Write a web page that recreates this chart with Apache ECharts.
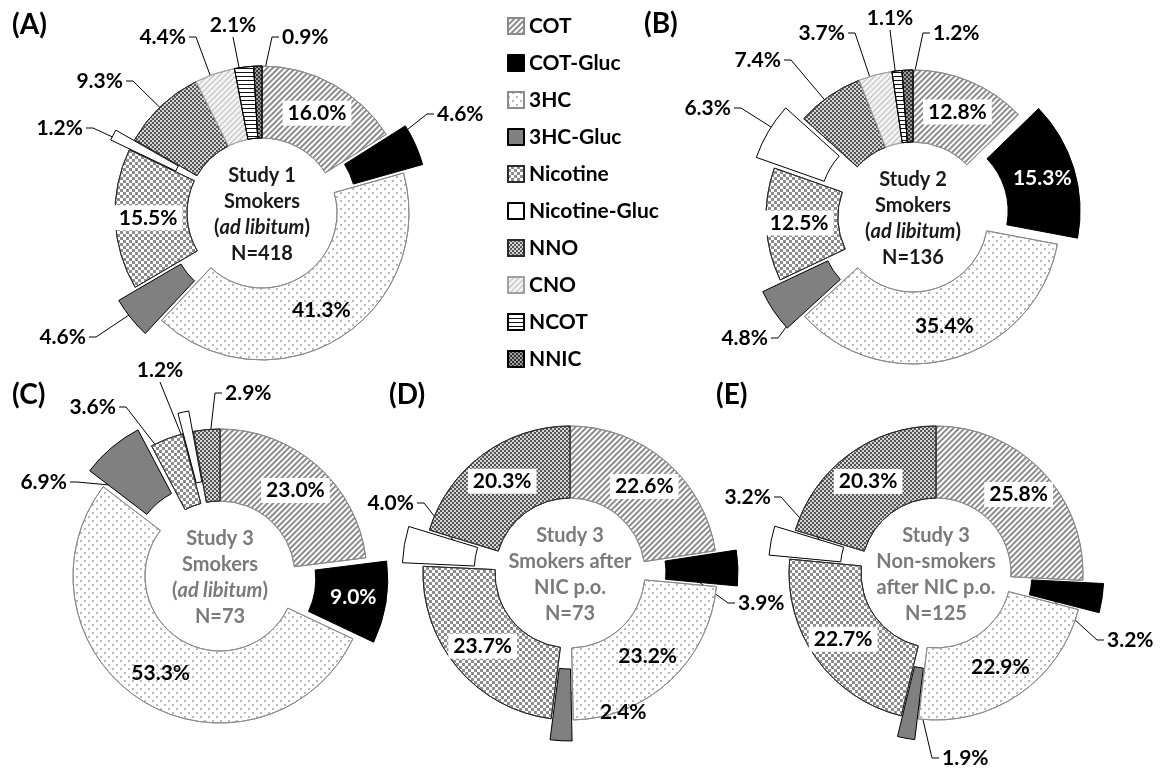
<!DOCTYPE html>
<html>
<head>
<meta charset="utf-8">
<script src="https://cdn.jsdelivr.net/npm/echarts@6/dist/echarts.min.js"></script>
<style>
  html, body { margin: 0; padding: 0; background: #fff; }
  #chart { width: 1167px; height: 771px; }
</style>
</head>
<body>
<div id="chart"></div>
<script>
// Urinary nicotine metabolite profiles (% of total), clockwise from 12 o'clock
const metabolites = ['COT', 'COT-Gluc', '3HC', '3HC-Gluc', 'Nicotine', 'Nicotine-Gluc', 'NNO', 'CNO', 'NCOT', 'NNIC'];
const study1Smokers = [16.0, 4.6, 41.3, 4.6, 15.5, 1.2, 9.3, 4.4, 2.1, 0.9];
const study2Smokers = [12.8, 15.3, 35.4, 4.8, 12.5, 6.3, 7.4, 3.7, 1.1, 1.2];
const study3Smokers = [23.0, 9.0, 53.3, 6.9, 3.6, 1.2, 2.9];
const study3SmokersNicPo = [22.6, 3.9, 23.2, 2.4, 23.7, 4.0, 20.3];
const study3NonSmokersNicPo = [25.8, 3.2, 22.9, 1.9, 22.7, 3.2, 20.3];

const panelLetters = ['(A)', '(B)', '(C)', '(D)', '(E)'];
const centreCaptions = [
  ['Study 1', 'Smokers', '(ad libitum)', 'N=418'],
  ['Study 2', 'Smokers', '(ad libitum)', 'N=136'],
  ['Study 3', 'Smokers', '(ad libitum)', 'N=73'],
  ['Study 3', 'Smokers after', 'NIC p.o.', 'N=73'],
  ['Study 3', 'Non-smokers', 'after NIC p.o.', 'N=125']
];

// ---- layout ----
const FONT = 'Lato, "Open Sans", sans-serif';
const RADII = [75, 147];
const panels = [
  { values: study1Smokers,         centre: [262, 213], letter: [12, 25],  captionColor: '#1a1a1a' },
  { values: study2Smokers,         centre: [913, 217], letter: [644, 24], captionColor: '#1a1a1a' },
  { values: study3Smokers,         centre: [220, 576], letter: [12, 395], captionColor: '#7a7a7a' },
  { values: study3SmokersNicPo,    centre: [570, 573], letter: [389, 395], captionColor: '#7a7a7a' },
  { values: study3NonSmokersNicPo, centre: [936, 573], letter: [716, 395], captionColor: '#7a7a7a' }
];

// callout label anchors: [x, y, side]; side tells where the leader meets the text
const callouts = [
  { 'COT-Gluc': [437, 114, 'left'], '3HC-Gluc': [86, 337, 'right'], 'Nicotine-Gluc': [83, 128, 'right'],
    'NNO': [123, 81, 'right'], 'CNO': [186, 37, 'right'], 'NCOT': [233, 25, 'center'], 'NNIC': [282, 37, 'left'] },
  { '3HC-Gluc': [768, 338, 'right'], 'Nicotine-Gluc': [731, 108, 'right'], 'NNO': [781, 60, 'right'],
    'CNO': [845, 33, 'right'], 'NCOT': [890, 18, 'center'], 'NNIC': [933, 33, 'left'] },
  { '3HC-Gluc': [67, 482, 'right'], 'Nicotine': [116, 407, 'right'], 'Nicotine-Gluc': [160, 370, 'center'],
    'NNO': [225, 393, 'left'] },
  { 'Nicotine-Gluc': [414, 503, 'right'], 'COT-Gluc': [738, 603, 'left'], '3HC-Gluc': [600, 712, 'left'] },
  { 'Nicotine-Gluc': [771, 497, 'right'], 'COT-Gluc': [1107, 640, 'left'], '3HC-Gluc': [942, 758, 'left'] }
];

// ---- fills ----
function checker(size, color) {
  return { symbol: 'rect', symbolSize: 1, symbolKeepAspect: false,
           dashArrayX: [[size, size], [0, size, size, 0]], dashArrayY: [size, 0], color: color };
}
function stripes(width, gap, rotation, color) {
  return { symbol: 'rect', symbolSize: 1, symbolKeepAspect: false,
           dashArrayX: [1, 0], dashArrayY: [width, gap], rotation: rotation, color: color };
}
const sliceLook = {
  'COT':           { color: '#ffffff', borderColor: '#8a8a8a', decal: stripes(2, 2, -Math.PI / 4, '#8c8c8c') },
  'COT-Gluc':      { color: '#000000', borderColor: '#000000' },
  '3HC':           { color: '#ffffff', borderColor: '#8a8a8a',
                     decal: { symbol: 'rect', symbolSize: 1, symbolKeepAspect: false,
                              dashArrayX: [[2, 6], [0, 4, 2, 2]], dashArrayY: [2, 2], color: '#b8b8b8' } },
  '3HC-Gluc':      { color: '#808080', borderColor: '#000000' },
  'Nicotine':      { color: '#ffffff', borderColor: '#2a2a2a', decal: checker(3, '#8c8c8c') },
  'Nicotine-Gluc': { color: '#ffffff', borderColor: '#000000' },
  'NNO':           { color: '#d4d4d4', borderColor: '#2a2a2a', decal: checker(2, '#555555') },
  'CNO':           { color: '#f2f2f2', borderColor: '#a0a0a0', decal: stripes(1, 3, -Math.PI / 4, '#bdbdbd') },
  'NCOT':          { color: '#ffffff', borderColor: '#000000', decal: stripes(1, 3, 0, '#111111') },
  'NNIC':          { color: '#a0a0a0', borderColor: '#000000', decal: checker(2, '#333333') }
};

const labelFont = { fontFamily: FONT, fontWeight: 'bold', fontSize: 21, color: '#000' };
const percent = function (p) { return p.value.toFixed(1) + '%'; };

// visible donut: glucuronide slices are pulled out of the ring, large slices carry their own label
function buildDonut(panel, idx) {
  const place = callouts[idx];
  const names = metabolites.slice(0, panel.values.length);
  const data = panel.values.map(function (v, i) {
    const name = names[i];
    const look = sliceLook[name];
    let label;
    if (place[name]) {
      label = { show: false };
    } else if (name === 'COT-Gluc') {
      label = { show: true, position: 'inside', color: '#fff' };
    } else if (name === '3HC') {
      label = { show: true, position: 'inside' };
    } else {
      label = { show: true, position: 'inside', backgroundColor: '#fff', padding: [2, 5] };
    }
    const itemStyle = { color: look.color, borderColor: look.borderColor, borderWidth: 1 };
    if (look.decal) itemStyle.decal = look.decal;
    return { name: name, value: v, selected: /-Gluc$/.test(name), itemStyle: itemStyle, label: label };
  });
  return {
    type: 'pie', center: panel.centre, radius: RADII, startAngle: 90, clockwise: true,
    selectedMode: 'multiple', selectedOffset: 21,
    avoidLabelOverlap: false, animation: false, emphasis: { disabled: true },
    label: Object.assign({ formatter: percent }, labelFont),
    labelLine: { show: false },
    data: data
  };
}

// transparent twin of each donut that carries the callout labels and their leader lines
function buildCallouts(panel, idx) {
  const place = callouts[idx];
  const names = metabolites.slice(0, panel.values.length);
  const data = panel.values.map(function (v, i) {
    const on = !!place[names[i]];
    return { name: names[i], value: v,
             label: { show: on }, labelLine: { show: on } };
  });
  return {
    type: 'pie', center: panel.centre, radius: RADII, startAngle: 90, clockwise: true,
    silent: true, selectedMode: false, avoidLabelOverlap: false, animation: false,
    emphasis: { disabled: true },
    itemStyle: { color: 'rgba(0,0,0,0)', borderWidth: 0 },
    label: Object.assign({ position: 'outside', formatter: percent }, labelFont),
    labelLine: { lineStyle: { color: '#000', width: 1 } },
    labelLayout: function (p) {
      const spot = place[names[p.dataIndex]];
      if (!spot) return {};
      const lx = spot[0], ly = spot[1], side = spot[2];
      const sx = p.rect.x + p.rect.width / 2;
      const sy = p.rect.y + p.rect.height / 2;
      let pts;
      if (side === 'left') pts = [[sx, sy], [lx - 10, ly], [lx - 3, ly]];
      else if (side === 'right') pts = [[sx, sy], [lx + 10, ly], [lx + 3, ly]];
      else pts = [[sx, sy], [lx, ly + 12], [lx, ly + 12]];
      return { x: lx, y: ly, align: side, verticalAlign: 'middle', labelLinePoints: pts };
    },
    data: data
  };
}

const captionRich = {
  b: { fontFamily: FONT, fontWeight: 'bold', fontSize: 20, lineHeight: 26 },
  i: { fontFamily: FONT, fontWeight: 'bold', fontStyle: 'italic', fontSize: 20, lineHeight: 26 }
};
function captionText(lines) {
  return lines.map(function (l) {
    const m = l.match(/^\((ad libitum)\)$/);
    if (m) return '{b|(}{i|' + m[1] + '}{b|)}';
    return '{b|' + l + '}';
  }).join('\n');
}

const graphics = [];
panels.forEach(function (panel, idx) {
  const rich = JSON.parse(JSON.stringify(captionRich));
  rich.b.fill = panel.captionColor; rich.i.fill = panel.captionColor;
  graphics.push({
    type: 'text', x: panel.centre[0], y: panel.centre[1] + 2, silent: true,
    style: { text: captionText(centreCaptions[idx]), rich: rich, align: 'center', verticalAlign: 'middle' }
  });
  graphics.push({
    type: 'text', x: panel.letter[0], y: panel.letter[1], silent: true,
    style: { text: panelLetters[idx], fontFamily: FONT, fontWeight: 'bold', fontSize: 28, fill: '#000',
             align: 'left', verticalAlign: 'middle' }
  });
});

const chart = echarts.init(document.getElementById('chart'), null, { renderer: 'canvas' });
chart.setOption({
  backgroundColor: '#fff',
  animation: false,
  legend: {
    orient: 'vertical', left: 502, top: 10,
    itemWidth: 16, itemHeight: 16, itemGap: 15,
    icon: 'rect', selectedMode: false,
    textStyle: { fontFamily: FONT, fontWeight: 'bold', fontSize: 21, color: '#000', lineHeight: 22 },
    data: metabolites
  },
  series: panels.map(buildDonut).concat(panels.map(buildCallouts)),
  graphic: graphics
});
</script>
</body>
</html>
